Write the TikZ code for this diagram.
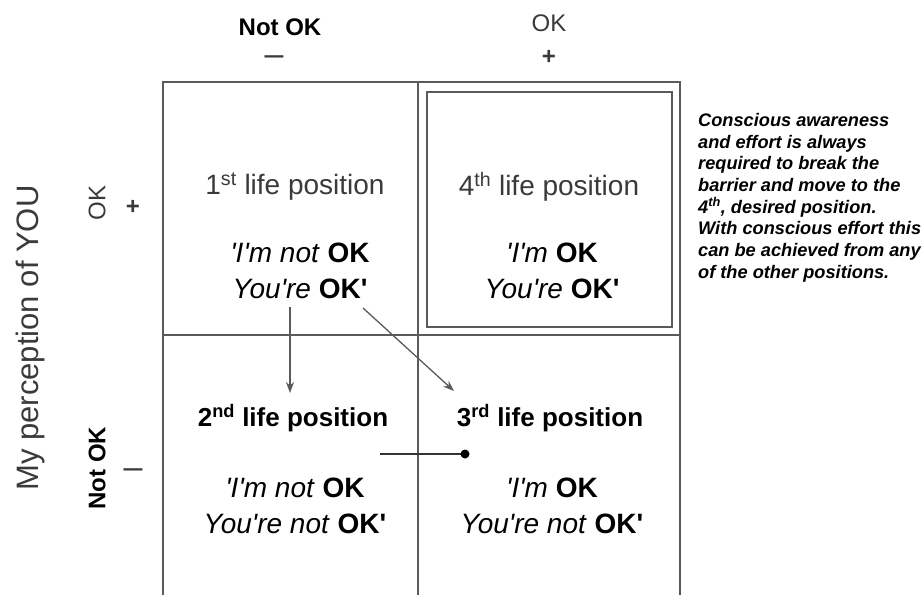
\documentclass[tikz,border=0pt]{standalone}
\usepackage{fontspec}
\setmainfont{Liberation Sans}
\usetikzlibrary{arrows.meta}
\definecolor{gridgray}{HTML}{5A5A5A}
\definecolor{softgray}{HTML}{3A3A3A}
\newcommand{\sq}{\textquotesingle}

\begin{document}
\begin{tikzpicture}[x=1pt,y=-1pt,inner sep=0pt,
  gridline/.style={draw=gridgray,line width=1.8pt},
  boxline/.style={draw=gridgray,line width=1.4pt},
  headtext/.style={font=\fontsize{24}{28}\selectfont},
  headbold/.style={font=\fontsize{24}{28}\selectfont\bfseries},
  signtext/.style={font=\fontsize{24}{28}\selectfont\bfseries, text=softgray},
  dashtext/.style={font=\fontsize{34}{38}\selectfont, text=softgray},
  celltitle/.style={font=\fontsize{28}{32}\selectfont, text=softgray},
  celltitlebold/.style={font=\fontsize{26}{30}\selectfont\bfseries},
  quote/.style={align=center, font=\fontsize{28}{36}\selectfont},
  flow/.style={draw=gridgray, line width=1.3pt, -{Stealth[length=11pt,width=8pt]}},
  note/.style={align=left, anchor=north west, font=\fontsize{18.2}{21.7}\selectfont\bfseries\itshape}
]
\useasboundingbox (0,0) rectangle (924,595);
\fill[white] (0,0) rectangle (924,595);

% the two-by-two grid, open at the bottom
\draw[gridline] (163,595) -- (163,82) -- (680,82) -- (680,595);
\draw[gridline] (418,82) -- (418,595);
\draw[gridline] (163,335) -- (680,335);
% frame around the desired position
\draw[boxline] (427,92) rectangle (672,327);

% column headings
\node[headbold] (colneg) at (280,27) {Not OK};
\node[dashtext] (colnegsign) at (274,61) {\textendash};
\node[headtext, text=softgray] (colpos) at (549,23) {OK};
\node[signtext] (colpossign) at (549,57) {+};

% row headings
\node[rotate=90, font=\fontsize{31}{36}\selectfont, text=softgray] (axis) at (30,338) {My perception of YOU};
\node[rotate=90, headtext, text=softgray] (rowpos) at (97,203) {OK};
\node[signtext] (rowpossign) at (133,207) {+};
\node[rotate=90, headbold] (rowneg) at (97,468) {Not OK};
\node[dashtext] (rownegsign) at (133,474) {\textendash};

% cell 1
\node[celltitle] (t1) at (295,187) {1\textsuperscript{st} life position};
\node[quote] (q1) at (300,271) {\textit{\sq I\sq m not} \textbf{OK}\\ \textit{You\sq re} \textbf{OK\sq}};
% cell 4
\node[celltitle] (t4) at (549,187) {4\textsuperscript{th} life position};
\node[quote] (q4) at (552,271) {\textit{\sq I\sq m} \textbf{OK}\\ \textit{You\sq re} \textbf{OK\sq}};
% cell 2
\node[celltitlebold] (t2) at (293,418) {2\textsuperscript{nd} life position};
\node[quote] (q2) at (295,506) {\textit{\sq I\sq m not} \textbf{OK}\\ \textit{You\sq re not} \textbf{OK\sq}};
% cell 3
\node[celltitlebold] (t3) at (550,418) {3\textsuperscript{rd} life position};
\node[quote] (q3) at (552,506) {\textit{\sq I\sq m} \textbf{OK}\\ \textit{You\sq re not} \textbf{OK\sq}};

% movements between positions
\coordinate (down1) at (290,307);
\coordinate (down2) at (290,393);
\draw[flow] (down1) -- (down2);
\coordinate (diag1) at (363,308);
\coordinate (diag2) at (454,391);
\draw[flow] (diag1) -- (diag2);

% the barrier between positions 2 and 3
\coordinate (bar1) at (380,454);
\coordinate (bar2) at (465,454);
\draw[line width=1.3pt, draw=black!80] (bar1) -- (bar2);
\fill (bar2) circle (4.5pt);

% side note
\node[note] (note) at (698,113) {Conscious awareness\\
and effort is always\\
required to break the\\
barrier and move to the\\
4\textsuperscript{th}, desired position.\\
With conscious effort this\\
can be achieved from any\\
of the other positions.};
\end{tikzpicture}
\end{document}
